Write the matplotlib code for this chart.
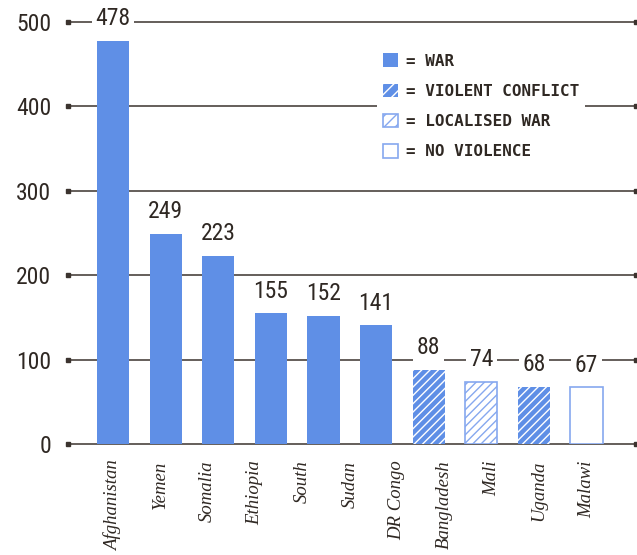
import numpy as np
import matplotlib
matplotlib.use("Agg")
import matplotlib.pyplot as plt
from matplotlib.patches import Patch
from matplotlib import font_manager

# conflict deaths per country, with the conflict status of each bar
tick_names = ['Afghanistan', 'Yemen', 'Somalia', 'Ethiopia', 'South', 'Sudan',
              'DR Congo', 'Bangladesh', 'Mali', 'Uganda', 'Malawi']
values = [478, 249, 223, 155, 152, 141, 88, 74, 68, 67]
status = ['war'] * 6 + ['violent', 'localised', 'violent', 'none']
yticks = [0, 100, 200, 300, 400, 500]

BLUE = '#5f8fe6'
LIGHT = '#86a8ef'
INK = '#2f2823'

# narrowest sans available for the numbers
names = {f.name for f in font_manager.fontManager.ttflist}
NUM_FONT = 'Roboto'
for cand in ['Roboto Condensed', 'Liberation Sans Narrow', 'Open Sans Condensed']:
    if cand in names:
        NUM_FONT = cand
        break
NUM = dict(family=NUM_FONT)

plt.rcParams['hatch.linewidth'] = 1.0

styles = {
    'war':       dict(facecolor=BLUE, edgecolor=BLUE, hatch=None, linewidth=0),
    'violent':   dict(facecolor=BLUE, edgecolor='white', hatch='////', linewidth=0),
    'localised': dict(facecolor='white', edgecolor=LIGHT, hatch='////', linewidth=1.2),
    'none':      dict(facecolor='white', edgecolor=LIGHT, hatch=None, linewidth=1.2),
}

fig = plt.figure(figsize=(6.37, 5.55), dpi=100)
ax = fig.add_axes([68 / 637, 111 / 555, 568 / 637, 422 / 555])

x = np.arange(len(values))
for xi, v, s in zip(x, values, status):
    ax.bar(xi, v, width=0.61, zorder=3, **styles[s])
    ax.annotate(str(v), (xi, v), xytext=(0, 7.5), textcoords='offset points',
                ha='center', va='bottom', fontsize=17, color=INK, zorder=5,
                bbox=dict(facecolor='white', edgecolor='none', pad=2.5), **NUM)

ax.set_xlim(-0.856, 9.94)
ax.set_ylim(0, 500)

# horizontal rules with small square end caps
trans = ax.get_yaxis_transform()
for t in yticks:
    ax.plot([0, 1], [t, t], transform=trans, color='#3b332e', lw=1.1,
            marker='s', ms=3.5, clip_on=False, zorder=1)

for sp in ax.spines.values():
    sp.set_visible(False)

ax.set_yticks(yticks)
ax.set_yticklabels([str(t) for t in yticks], fontsize=17, color=INK, **NUM)
ax.set_xticks(np.linspace(0, len(values) - 1, len(tick_names)))
ax.set_xticklabels(tick_names, rotation=90, fontsize=13.5, color=INK,
                   family='Liberation Serif', style='italic', va='top')
ax.tick_params(axis='y', length=0, pad=12)
ax.tick_params(axis='x', length=0, pad=12)

# legend keys use a sparser hatch than the bars
def key(s, label):
    st = dict(styles[s])
    if st['hatch']:
        st['hatch'] = '///'
    return Patch(label=label, **st)

handles = [key('war', '= WAR'),
           key('violent', '= VIOLENT CONFLICT'),
           key('localised', '= LOCALISED WAR'),
           key('none', '= NO VIOLENCE')]
leg = ax.legend(handles=handles, loc='upper left',
                bbox_to_anchor=(377 / 637, 1 - 47 / 555),
                bbox_transform=fig.transFigure, frameon=True, fancybox=False,
                facecolor='white', edgecolor='none', framealpha=1,
                prop=dict(family='DejaVu Sans Mono', size=11.5, weight='bold'),
                handlelength=0.9, handleheight=0.9, handletextpad=0.5,
                labelspacing=0.95, borderpad=0.4, borderaxespad=0)
for txt in leg.get_texts():
    txt.set_color(INK)
leg.set_zorder(4)

fig.savefig('out.png', dpi=100)
